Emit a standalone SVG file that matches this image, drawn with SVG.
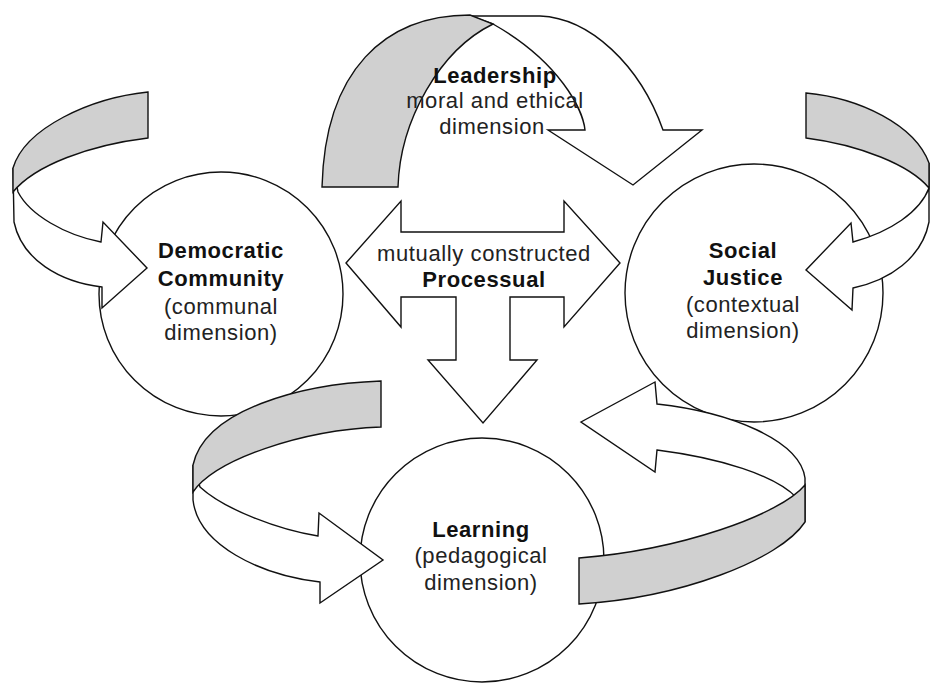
<svg xmlns="http://www.w3.org/2000/svg" width="931" height="684" viewBox="0 0 931 684">
<style>
.c{fill:#fff;stroke:#111;stroke-width:1.4}
.w{fill:#fff;stroke:#111;stroke-width:1.4;stroke-linejoin:miter}
.g{fill:#d0d0d0;stroke:#111;stroke-width:1.4;stroke-linejoin:miter}
text{font-family:"Liberation Sans",Arial,Helvetica,sans-serif;font-size:22px;letter-spacing:0.6px;fill:#222;text-anchor:middle}
.b{font-weight:bold;fill:#111}
</style>
<rect width="931" height="684" fill="#fff"/>
<g id="democratic-community">
<circle class="c" cx="221" cy="294" r="122"/>
</g>
<g id="social-justice">
<circle class="c" cx="754" cy="293" r="129"/>
</g>
<g id="learning">
<circle class="c" cx="482" cy="560" r="122"/>
</g>
<g id="connectors">
<g id="arrow-leadership">
<path class="w" d="M470,16 L540,16 C590,18 640,65 663,130 L702,130 L633,185 L548,130 L585,130 C583,110 560,62 493,24 Z"/>
<path class="g" d="M322,187 C325,70 385,15 470,15 L493,24 C440,50 400,120 398,187 Z"/>
</g>
<g id="arrow-left">
<path class="w" d="M13,168 L14,222 C22,260 60,282 102,287 L102,308 L147,268 L103,222 L101,242 C65,235 30,215 18,192 Z"/>
<path class="g" d="M148,92 C90,98 25,128 13,168 L13,192 C35,165 90,145 148,138 Z"/>
</g>
<g id="arrow-right">
<path class="w" d="M929,163 L929,222 C922,258 890,280 853,288 L852,310 L806,270 L851,223 L853,242 C890,232 920,212 929,188 Z"/>
<path class="g" d="M806,93 C860,98 915,125 929,163 L929,188 C910,165 860,145 806,138 Z"/>
</g>
<g id="arrow-bottom-left">
<path class="w" d="M193,465 L193,500 C198,545 260,575 320,582 L320,603 L383,560 L319,513 L318,536 C280,530 225,510 200,487 Z"/>
<path class="g" d="M381,381 C300,384 205,410 193,465 L193,492 C215,460 300,430 381,427 Z"/>
</g>
<g id="arrow-bottom-right">
<path class="w" d="M805,522 L805,478 C800,440 730,412 657,404 L655,382 L581,422 L655,472 L657,450 C720,458 775,475 797,498 Z"/>
<path class="g" d="M579,558 L579,604 C680,598 780,560 805,522 L805,485 C780,515 680,550 579,558 Z"/>
</g>
<g id="arrow-center">
<path class="w" d="M346,263 L401,201 L401,232 L564,232 L564,201 L620,263 L564,327 L564,297 L510,297 L510,360 L537,360 L483,423 L428,360 L456,360 L456,297 L401,297 L401,327 Z"/>
</g>
</g>
<g id="label-leadership">
<text x="495" y="83" class="b">Leadership</text>
<text x="495" y="108">moral and ethical</text>
<text x="492" y="134">dimension</text>
</g>
<g id="label-processual">
<text x="484" y="261">mutually constructed</text>
<text x="484" y="287" class="b">Processual</text>
</g>
<g id="label-democratic">
<text x="221" y="258" class="b">Democratic</text>
<text x="221" y="286" class="b">Community</text>
<text x="221" y="314">(communal</text>
<text x="221" y="340">dimension)</text>
</g>
<g id="label-social">
<text x="743" y="258" class="b">Social</text>
<text x="743" y="285" class="b">Justice</text>
<text x="743" y="312">(contextual</text>
<text x="743" y="338">dimension)</text>
</g>
<g id="label-learning">
<text x="481" y="537" class="b">Learning</text>
<text x="481" y="563">(pedagogical</text>
<text x="481" y="590">dimension)</text>
</g>
</svg>
